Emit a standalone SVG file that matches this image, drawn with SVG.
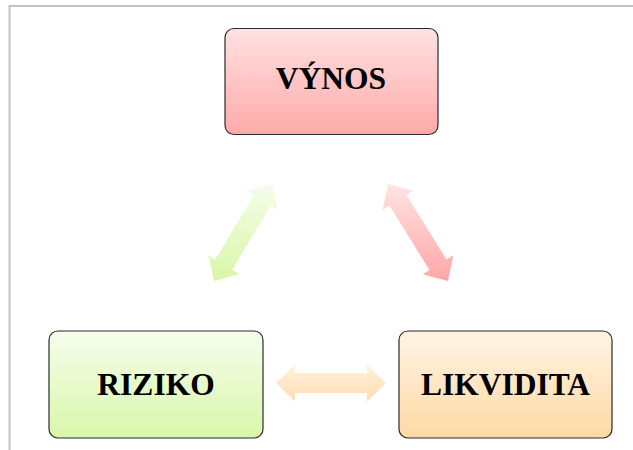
<svg xmlns="http://www.w3.org/2000/svg" width="633" height="450" viewBox="0 0 633 450">
<style>
.box{stroke:#2a2a2a;stroke-width:1.2}
.lbl{font-family:"Liberation Serif","Times New Roman",serif;font-weight:bold;font-size:31.5px;fill:#000;text-anchor:middle}
.frame{stroke:#c3c3c3;stroke-width:2;fill:none}
</style>
<defs>
<linearGradient id="gRed" x1="0" y1="0" x2="0" y2="1"><stop offset="0" stop-color="#ffe2e2"/><stop offset="1" stop-color="#ffa9a9"/></linearGradient>
<linearGradient id="gGreen" x1="0" y1="0" x2="0" y2="1"><stop offset="0" stop-color="#f6fdec"/><stop offset="1" stop-color="#d9f7a9"/></linearGradient>
<linearGradient id="gOrange" x1="0" y1="0" x2="0" y2="1"><stop offset="0" stop-color="#fff4e4"/><stop offset="1" stop-color="#ffd9a4"/></linearGradient>
<linearGradient id="aGreen" x1="0" y1="0" x2="0" y2="1"><stop offset="0" stop-color="#f6fdec"/><stop offset="1" stop-color="#d8f6a6"/></linearGradient>
<linearGradient id="aRed" x1="0" y1="0" x2="0" y2="1"><stop offset="0" stop-color="#ffe4e4"/><stop offset="1" stop-color="#ffa6a6"/></linearGradient>
<linearGradient id="aOrange" x1="0" y1="0" x2="0" y2="1"><stop offset="0" stop-color="#fff2e0"/><stop offset="1" stop-color="#ffdcb0"/></linearGradient>
</defs>
<rect width="633" height="450" fill="#fff"/>
<path class="frame" d="M9.5 450 V6 H633"/>
<g id="connectors">
<polygon fill="url(#aGreen)" points="272,184 277.7,209.5 270.8,205.4 232.3,269.8 239.2,273.9 214,281 208.3,255.5 215.2,259.6 253.7,195.2 246.8,191.1"/>
<polygon fill="url(#aRed)" points="388,184 382.7,209.7 389.5,205.5 429.5,270.1 422.7,274.3 448,281 453.3,255.3 446.5,259.5 406.5,194.9 413.3,190.7"/>
<polygon fill="url(#aOrange)" points="276,383 295,364.5 295,373 367,373 367,364.5 386,383 367,401.5 367,393 295,393 295,401.5"/>
</g>
<g id="vynos">
<rect class="box" x="225" y="28.5" width="213" height="106" rx="9" fill="url(#gRed)"/>
<text class="lbl" x="331" y="88.5">VÝNOS</text>
</g>
<g id="riziko">
<rect class="box" x="49" y="331" width="214" height="107" rx="9" fill="url(#gGreen)"/>
<text class="lbl" x="156" y="394.5">RIZIKO</text>
</g>
<g id="likvidita">
<rect class="box" x="399" y="331" width="213" height="107" rx="9" fill="url(#gOrange)"/>
<text class="lbl" x="505.5" y="394.5">LIKVIDITA</text>
</g>
</svg>
